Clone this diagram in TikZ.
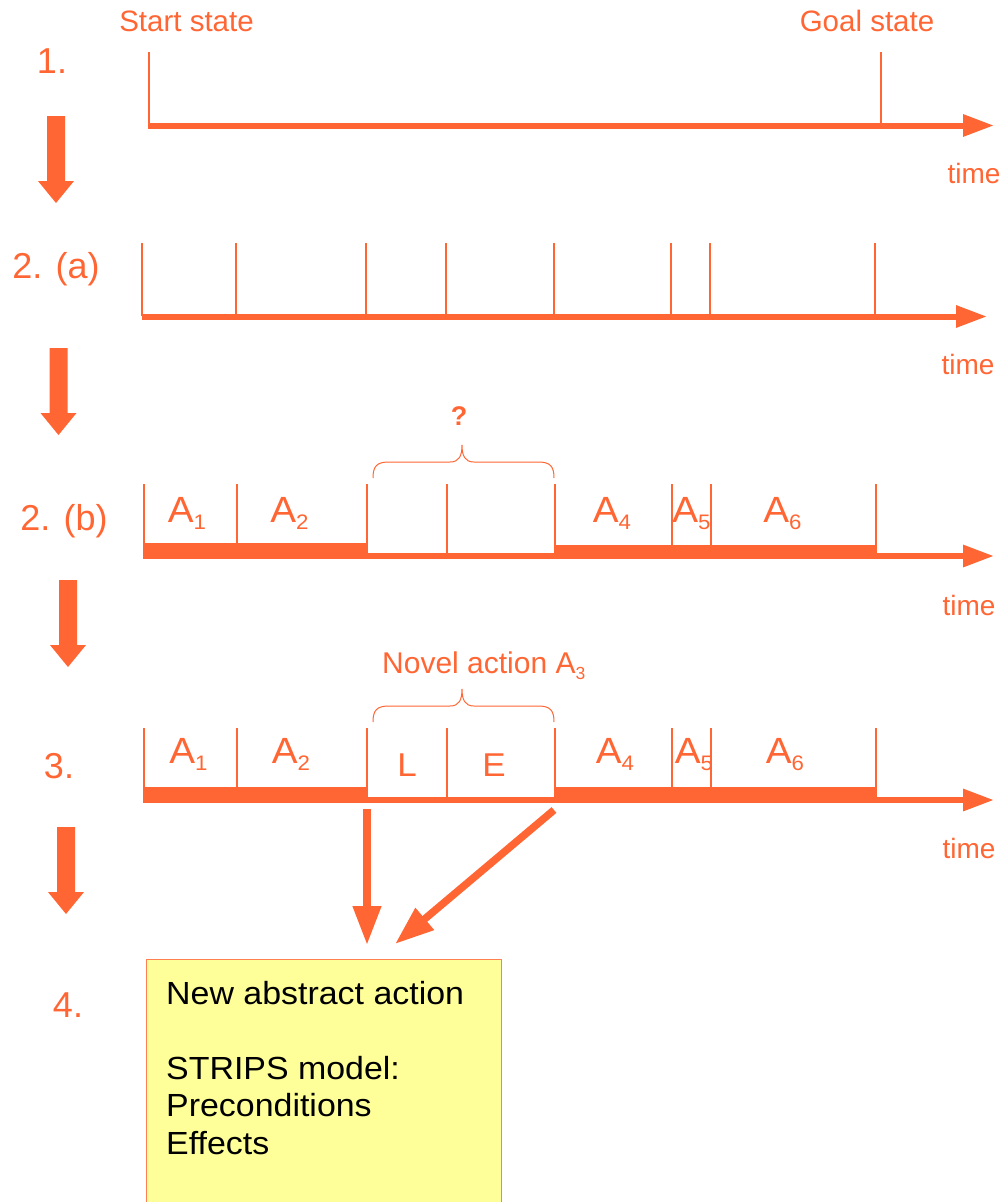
\documentclass[tikz,border=0pt]{standalone}
\usepackage{fontspec}
\setmainfont{Liberation Sans}
\newfontfamily\widefont[FakeStretch=1.06]{Liberation Sans}
\usetikzlibrary{arrows.meta}

\definecolor{accent}{HTML}{FF6633}
\definecolor{note}{HTML}{FFFF99}
\definecolor{noteedge}{HTML}{FF8050}

% subscripts of action names
\newcommand\asub[1]{\raisebox{-7pt}{\fontsize{21}{20}\selectfont #1}}
\newcommand\nsub[1]{\raisebox{-6pt}{\fontsize{17.5}{17}\selectfont #1}}

\tikzset{
  lbl/.style={text=accent, inner sep=0pt, anchor=base, font=\fontsize{29.5}{35}\selectfont},
  steplbl/.style={lbl, font=\fontsize{36}{42}\selectfont},
  timelbl/.style={lbl, font=\fontsize{28}{34}\selectfont},
  actlbl/.style={lbl, font=\widefont\fontsize{36.5}{40}\selectfont},
  seglbl/.style={lbl, font=\widefont\fontsize{33}{36}\selectfont},
  tick/.style={draw=accent, line width=1.2pt},
  timeline/.style={draw=accent, line width=6pt, -{Triangle[length=31pt,width=21pt]}},
  bar/.style={fill=accent},
  feed/.style={draw=accent, line width=7.5pt, -{Triangle[length=39pt,width=27pt]}},
  notebox/.style={draw=noteedge, line width=1.2pt, fill=note, anchor=north west,
    minimum width=355pt, minimum height=300pt, inner sep=0pt},
  notetext/.style={inner sep=0pt, anchor=north west, align=left, text=black,
    font=\widefont\fontsize{32}{37.5}\selectfont},
  stagearrow/.pic={\fill[accent] (-9,0) -- (9,0) -- (9,65) -- (18,65) -- (0,87)
    -- (-18,65) -- (-9,65) -- cycle;},
  curly/.pic={\draw[accent, line width=1pt] (0,0) .. controls (0,-12) and (4,-16) .. (16,-16)
    -- (77,-16) .. controls (86,-16) and (89,-22) .. (89,-33)
    .. controls (89,-22) and (92,-16) .. (101,-16)
    -- (165,-16) .. controls (177,-16) and (181,-12) .. (181,0);},
}

\begin{document}
\begin{tikzpicture}[x=1pt,y=-1pt]
\useasboundingbox (0,0) rectangle (1006,1202);

% ---------- stage labels and stage arrows ----------
\node[steplbl] (s1)  at (52,73)   {1.};
\node[steplbl] (s2a) at (56,278)  {2. (a)};
\node[steplbl] (s2b) at (64,530)  {2. (b)};
\node[steplbl] (s3)  at (59,778)  {3.};
\node[steplbl] (s4)  at (68,1017) {4.};
\pic at (56,116)   {stagearrow};
\pic at (58.5,348) {stagearrow};
\pic at (68,580)   {stagearrow};
\pic at (66,827)   {stagearrow};

% ---------- 1. start and goal ----------
\coordinate (r1s) at (148,125.5);
\coordinate (r1e) at (994,125.5);
\foreach \x in {149,881} \draw[tick] (\x,52) -- (\x,125);
\draw[timeline] (r1s) -- (r1e);
\node[lbl] (start) at (186.5,31) {Start state};
\node[lbl] (goal)  at (867,31)   {Goal state};
\node[timelbl] (time1) at (974,183) {time};

% ---------- 2. (a) segmentation ----------
\coordinate (r2s) at (142,316.5);
\coordinate (r2e) at (987,316.5);
\foreach \x in {142,236,366,446,554,671,710,875} \draw[tick] (\x,243) -- (\x,316);
\draw[timeline] (r2s) -- (r2e);
\node[timelbl] (time2) at (968,374) {time};

% ---------- 2. (b) recognised actions ----------
\coordinate (r3s) at (143,556);
\coordinate (r3e) at (994,556);
\foreach \x in {144,237,367,447,555,672,711,876} \draw[tick] (\x,484) -- (\x,556);
\fill[bar] (143,543) rectangle (367,559);
\fill[bar] (555,545) rectangle (876,559);
\draw[timeline] (r3s) -- (r3e);
\node[actlbl] (b1) at (187,522)   {A\asub{1}};
\node[actlbl] (b2) at (289.5,522) {A\asub{2}};
\node[actlbl] (b4) at (612,522)   {A\asub{4}};
\node[actlbl] (b5) at (691.5,522) {A\asub{5}};
\node[actlbl] (b6) at (782.5,522) {A\asub{6}};
\pic at (373,478) {curly};
\node[lbl, font=\bfseries\fontsize{27}{32}\selectfont] (unk) at (459,425) {?};
\node[timelbl] (time3) at (969,615) {time};

% ---------- 3. novel action ----------
\coordinate (r4s) at (143,800);
\coordinate (r4e) at (994,800);
\foreach \x in {144,237,367,447,555,672,711,876} \draw[tick] (\x,728) -- (\x,800);
\fill[bar] (143,787) rectangle (367,803);
\fill[bar] (555,787) rectangle (876,803);
\draw[timeline] (r4s) -- (r4e);
\node[actlbl] (c1) at (188.5,763) {A\asub{1}};
\node[actlbl] (c2) at (291,763)   {A\asub{2}};
\node[actlbl] (c4) at (615,763)   {A\asub{4}};
\node[actlbl] (c5) at (694,763)   {A\asub{5}};
\node[actlbl] (c6) at (785,763)   {A\asub{6}};
\node[seglbl] (segL) at (407,776) {L};
\node[seglbl] (segE) at (494,776) {E};
\pic at (373,722) {curly};
\node[lbl, anchor=base west, font=\fontsize{30}{35}\selectfont] (novel) at (382,673) {Novel action A\nsub{3}};
\node[timelbl] (time4) at (969,858) {time};

% ---------- 4. abstract action model ----------
\node[notebox] (model) at (146,959) {};
\node[notetext] (modeltext) at (166,981)
  {New abstract action\\[37.5pt]STRIPS model:\\Preconditions\\Effects};

\coordinate (fromL) at (367,809);
\coordinate (toL)   at (367,945);
\coordinate (fromE) at (554,810);
\coordinate (toE)   at (395,944);
\draw[feed] (fromL) -- (toL);
\draw[feed] (fromE) -- (toE);
\end{tikzpicture}
\end{document}
